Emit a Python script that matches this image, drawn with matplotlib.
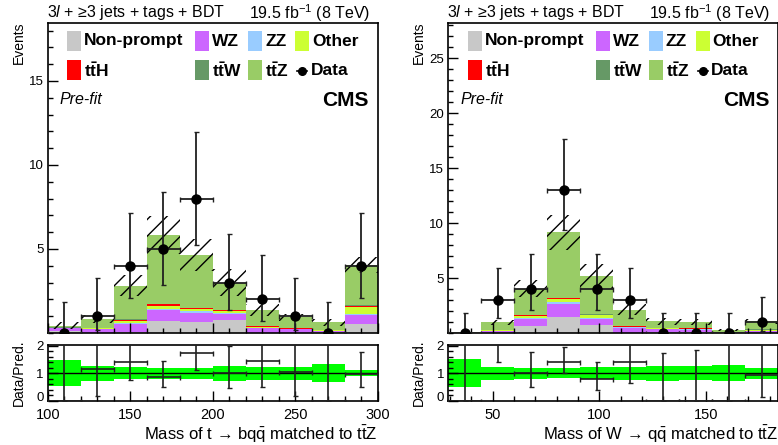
import numpy as np
import matplotlib
matplotlib.use("Agg")
import matplotlib.pyplot as plt
from matplotlib.patches import Rectangle
from matplotlib.lines import Line2D
from matplotlib.ticker import MultipleLocator, FixedLocator

plt.rcParams['font.family'] = ['Liberation Sans', 'DejaVu Sans']
plt.rcParams['mathtext.fontset'] = 'custom'
plt.rcParams['mathtext.rm'] = 'Liberation Sans'
plt.rcParams['mathtext.it'] = 'Liberation Sans:italic'
plt.rcParams['mathtext.bf'] = 'Liberation Sans:bold'
plt.rcParams['hatch.linewidth'] = 1.0
plt.rcParams['hatch.color'] = 'black'

# ---------------- data: left panel (mass of t -> bqq) ----------------
left_edges = [100, 120, 140, 160, 180, 200, 220, 240, 260, 280, 300]
left_nonprompt = [0.13, 0.02, 0.05, 0.70, 0.65, 0.75, 0.02, 0.01, 0.00, 0.55]
left_wz        = [0.15, 0.20, 0.50, 0.65, 0.55, 0.40, 0.28, 0.20, 0.12, 0.50]
left_zz        = [0.01, 0.02, 0.05, 0.10, 0.08, 0.05, 0.02, 0.02, 0.01, 0.10]
left_other     = [0.02, 0.03, 0.10, 0.15, 0.12, 0.08, 0.05, 0.03, 0.02, 0.40]
left_tth       = [0.01, 0.02, 0.08, 0.10, 0.07, 0.07, 0.03, 0.02, 0.02, 0.08]
left_ttw       = [0.01, 0.02, 0.03, 0.05, 0.03, 0.02, 0.02, 0.01, 0.01, 0.05]
left_ttz       = [0.10, 0.55, 2.00, 4.08, 3.14, 1.63, 0.95, 0.65, 0.45, 2.37]
left_unc       = [0.20, 0.24, 0.62, 1.12, 0.93, 0.80, 0.33, 0.22, 0.20, 0.46]
left_data      = [0, 1, 4, 5, 8, 3, 2, 1, 0, 4]
left_data_lo   = [0.00, 0.83, 1.91, 2.16, 2.77, 1.63, 1.29, 0.83, 0.00, 1.91]
left_data_hi   = [1.84, 2.30, 3.16, 3.38, 3.96, 2.92, 2.64, 2.30, 1.84, 3.16]

# ---------------- data: right panel (mass of W -> qq) ----------------
right_edges = [29.2, 44.7, 60.2, 75.6, 91.1, 106.6, 122.1, 137.6, 153.0, 168.5, 184.0]
right_nonprompt = [0.00, 0.02, 0.60, 1.45, 0.70, 0.03, 0.02, 0.05, 0.02, 0.02]
right_wz        = [0.04, 0.15, 0.63, 1.15, 0.60, 0.45, 0.30, 0.25, 0.03, 0.15]
right_zz        = [0.00, 0.02, 0.10, 0.20, 0.10, 0.03, 0.03, 0.03, 0.00, 0.02]
right_other     = [0.00, 0.05, 0.20, 0.25, 0.20, 0.07, 0.08, 0.06, 0.01, 0.08]
right_tth       = [0.00, 0.04, 0.08, 0.10, 0.07, 0.05, 0.05, 0.04, 0.01, 0.03]
right_ttw       = [0.00, 0.02, 0.05, 0.05, 0.03, 0.03, 0.02, 0.02, 0.00, 0.02]
right_ttz       = [0.01, 0.67, 2.37, 5.95, 3.45, 1.46, 0.56, 0.55, 0.20, 0.74]
right_unc       = [0.025, 0.22, 0.80, 1.60, 1.13, 0.50, 0.29, 0.25, 0.08, 0.21]
right_data      = [0, 3, 4, 13, 4, 3, 0, 0, 0, 1]
right_data_lo   = [0.00, 1.63, 1.91, 3.60, 1.91, 1.63, 0.00, 0.00, 0.00, 0.83]
right_data_hi   = [1.84, 2.92, 3.16, 4.67, 3.16, 2.92, 1.84, 1.84, 1.84, 2.30]

process_names = ["Non-prompt", "WZ", "ZZ", "Other", r"$\mathbf{t\bar{t}H}$",
                 r"$\mathbf{t\bar{t}W}$", r"$\mathbf{t\bar{t}Z}$"]
process_colors = ["#c8c8c8", "#cc66ff", "#99ccff", "#ccff33", "#ff0000",
                  "#669966", "#99cc66"]

panels = [
    dict(left=47.7, edges=left_edges,
         stack=[left_nonprompt, left_wz, left_zz, left_other, left_tth, left_ttw, left_ttz],
         unc=left_unc, data=left_data, lo=left_data_lo, hi=left_data_hi,
         ymax=18.45, yticks=[5, 10, 15], xlim=(100, 300), xmajor=50, xminor=10,
         xlabel=r"Mass of t → b$\mathrm{q\bar{q}}$ matched to t$\mathrm{\bar{t}}$Z"),
    dict(left=448.3, edges=right_edges,
         stack=[right_nonprompt, right_wz, right_zz, right_other, right_tth, right_ttw, right_ttz],
         unc=right_unc, data=right_data, lo=right_data_lo, hi=right_data_hi,
         ymax=28.2, yticks=[5, 10, 15, 20, 25], xlim=(29.2, 184.0), xmajor=50, xminor=10,
         xlabel=r"Mass of W → $\mathrm{q\bar{q}}$ matched to t$\mathrm{\bar{t}}$Z"),
]

W, H = 778, 445
fig = plt.figure(figsize=(W / 100, H / 100), dpi=100)


def fx(x):
    return x / W


def fy(y):
    return 1 - y / H


AX_W = 330
MAIN_TOP, MAIN_BOT = 23, 333
RAT_TOP, RAT_BOT = 345, 401


def style_axis(a):
    for s in a.spines.values():
        s.set_linewidth(1.2)
        s.set_color('black')
    a.tick_params(which='both', direction='in', top=False, right=False, color='black', width=1.0)
    a.tick_params(which='major', length=7)
    a.tick_params(which='minor', length=3.5)


for p in panels:
    L = p['left']
    edges = np.array(p['edges'], dtype=float)
    widths = np.diff(edges)
    centers = edges[:-1] + widths / 2
    stack = [np.array(s, dtype=float) for s in p['stack']]
    total = np.sum(stack, axis=0)
    unc = np.array(p['unc'])
    data = np.array(p['data'], dtype=float)
    lo = np.array(p['lo'])
    hi = np.array(p['hi'])

    ax = fig.add_axes([fx(L), fy(MAIN_BOT), AX_W / W, (MAIN_BOT - MAIN_TOP) / H])
    rx = fig.add_axes([fx(L), fy(RAT_BOT), AX_W / W, (RAT_BOT - RAT_TOP) / H])

    bottom = np.zeros(len(centers))
    for vals, col in zip(stack, process_colors):
        ax.bar(edges[:-1], vals, width=widths, bottom=bottom, align='edge',
               color=col, linewidth=0, zorder=1)
        bottom = bottom + vals
    ax.bar(edges[:-1], 2 * unc, width=widths, bottom=total - unc, align='edge',
           fill=False, hatch='//', linewidth=0, edgecolor='black', zorder=2)
    ax.errorbar(centers, data, yerr=[lo, hi], xerr=widths / 2, fmt='o', color='black',
                ecolor='#202020', ms=6.5, elinewidth=1.3, capsize=1.8, capthick=1.0, zorder=4)
    ax.set_xlim(*p['xlim'])
    ax.set_ylim(0, p['ymax'])
    style_axis(ax)
    ax.yaxis.set_major_locator(FixedLocator(p['yticks']))
    ax.yaxis.set_minor_locator(MultipleLocator(1))
    ax.xaxis.set_major_locator(MultipleLocator(p['xmajor']))
    ax.xaxis.set_minor_locator(MultipleLocator(p['xminor']))
    ax.set_xticklabels([])
    ax.tick_params(axis='y', labelsize=9.5, pad=3)

    # ratio panel
    rel = unc / total
    rx.bar(edges[:-1], 2 * rel, width=widths, bottom=1 - rel, align='edge',
           color='#00ff00', linewidth=0, zorder=1)
    rx.axhline(1, color='black', lw=1.0, zorder=2)
    ratio = data / total
    rx.errorbar(centers, ratio, yerr=[lo / total, hi / total], xerr=widths / 2,
                fmt='none', ecolor='#202020', elinewidth=1.2, capsize=1.8,
                capthick=1.0, zorder=3)
    rx.set_xlim(*p['xlim'])
    rx.set_ylim(0, 2.02)
    style_axis(rx)
    rx.yaxis.set_major_locator(FixedLocator([0, 1, 2]))
    rx.yaxis.set_minor_locator(MultipleLocator(0.2))
    rx.xaxis.set_major_locator(MultipleLocator(p['xmajor']))
    rx.xaxis.set_minor_locator(MultipleLocator(p['xminor']))
    rx.tick_params(axis='x', labelsize=10.5, pad=5)
    rx.tick_params(axis='y', labelsize=9.5, pad=3)
    yt = rx.yaxis.get_major_ticks()
    if yt:
        yt[0].label1.set_verticalalignment('baseline')

    # header texts
    fig.text(fx(L - 1), fy(13), r"3$\mathit{l}$ + ≥3 jets + tags + BDT",
             fontsize=11.5, ha='left', va='center')
    fig.text(fx(L + 322), fy(13), r"19.5 fb$^{-1}$ (8 TeV)",
             fontsize=11.5, ha='right', va='center')
    fig.text(fx(L + 12), fy(100), "Pre-fit", style='italic', fontsize=11.5,
             ha='left', va='center')
    fig.text(fx(L + 321), fy(100), "CMS", fontweight='bold', fontsize=15,
             ha='right', va='center')
    fig.text(fx(L - 29), fy(22), "Events", rotation=90, fontsize=10,
             ha='center', va='top')
    fig.text(fx(L - 29), fy(373), "Data/Pred.", rotation=90, fontsize=10,
             ha='center', va='center')
    fig.text(fx(L + 330), fy(434), p['xlabel'], fontsize=12, ha='right', va='center')

    # legend
    box_x = [19.3, 147.3, 200.3, 247.3, 19.3, 147.3, 200.3]
    box_y = [41, 41, 41, 41, 70.5, 70.5, 70.5]
    for name, col, bx, by in zip(process_names, process_colors, box_x, box_y):
        fig.add_artist(Rectangle((fx(L + bx), fy(by + 10)), 14 / W, 20 / H,
                                 transform=fig.transFigure, facecolor=col,
                                 edgecolor='none'))
        fig.text(fx(L + bx + 17), fy(by), name, fontsize=12.5, fontweight='bold',
                 ha='left', va='center')
    fig.add_artist(Line2D([fx(L + 249.5), fx(L + 259.5)], [fy(70.5), fy(70.5)],
                          transform=fig.transFigure, color='black', lw=1.2))
    fig.add_artist(Line2D([fx(L + 254.5)], [fy(70.5)], transform=fig.transFigure,
                          marker='o', color='black', ms=5.5))
    fig.text(fx(L + 263), fy(70.5), "Data", fontsize=12.5, fontweight='bold',
             ha='left', va='center')

fig.savefig("out.png", dpi=100)
